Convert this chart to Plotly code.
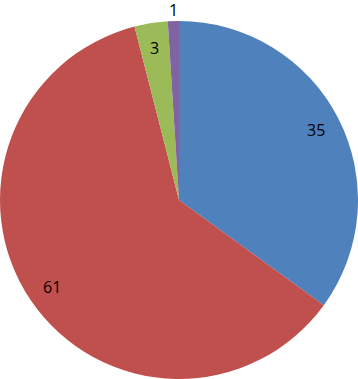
import numpy as np
import plotly.graph_objects as go

labels = ["A", "B", "C", "D"]
values = [35, 61, 3, 1]
colors = ["#4F81BD", "#C0504D", "#9BBB59", "#8064A2"]
text_pos = ["inside", "inside", "inside", "outside"]

W, H = 358, 379
top_gap = 21
R = (H - top_gap) / 2
cx, cy = W / 2, top_gap + R

fig = go.Figure(go.Pie(
    labels=labels,
    values=values,
    sort=False,
    direction="clockwise",
    rotation=0,
    marker=dict(colors=colors, line=dict(width=0)),
    textinfo="none",
    domain=dict(x=[0, 1], y=[0, 1 - top_gap / H]),
    showlegend=False,
    hoverinfo="skip",
))

# value labels placed at slice mid-angles
vals = np.array(values, dtype=float)
cum = np.cumsum(vals) - vals / 2
mid = cum / vals.sum() * 2 * np.pi
for v, a, pos in zip(values, mid, text_pos):
    f = 0.86 if pos == "inside" else 1.06
    px = cx + f * R * np.sin(a)
    py = cy - f * R * np.cos(a)
    fig.add_annotation(
        x=px / W, y=1 - py / H, xref="paper", yref="paper",
        text=str(v), showarrow=False,
        xanchor="center", yanchor="middle",
        font=dict(family="Open Sans", size=16, color="black"),
    )

fig.update_layout(
    width=W, height=H,
    margin=dict(l=0, r=0, t=0, b=0),
    paper_bgcolor="white",
    plot_bgcolor="white",
)
fig.write_html(
    "out.html",
    config={"displayModeBar": False, "staticPlot": True},
    post_script="document.body.style.margin='0';document.body.style.overflow='hidden';",
)
